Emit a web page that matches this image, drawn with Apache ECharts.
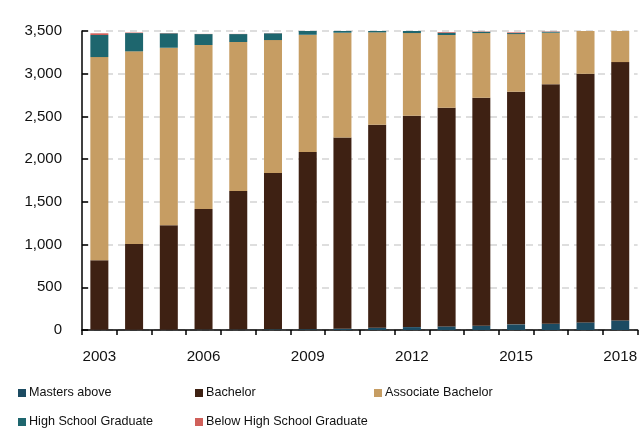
<!DOCTYPE html>
<html>
<head>
<meta charset="utf-8">
<script src="https://cdn.jsdelivr.net/npm/echarts@6/dist/echarts.min.js"></script>
<style>html,body{margin:0;padding:0;background:#fff;}#c{width:640px;height:430px;}</style>
</head>
<body>
<div id="c"></div>
<script>
var years = ['2003','2004','2005','2006','2007','2008','2009','2010','2011','2012','2013','2014','2015','2016','2017','2018'];
var mastersAbove = [2,3,4,5,6,8,10,15,27,34,42,50,66,74,89,112];
var bachelor = [814,1004,1222,1412,1622,1831,2075,2239,2375,2473,2559,2668,2722,2804,2910,3024];
var associateBachelor = [2379,2255,2078,1919,1743,1555,1371,1226,1082,969,852,758,676,602,560,440];
var highSchool = [258,214,169,128,93,79,70,50,40,24,27,15,12,11,10,8];
var belowHighSchool = [20,6,3,2,2,2,2,2,2,3,8,4,8,4,3,3];
var yTicks = [0,500,1000,1500,2000,2500,3000,3500];

var FONT = "'Liberation Sans', Arial, sans-serif";
var names = ['Masters above','Bachelor','Associate Bachelor','High School Graduate','Below High School Graduate'];
var colors = ['#1c4b62','#3e2113','#c69d63','#1e666e','#d0605a'];
var datasets = [mastersAbove, bachelor, associateBachelor, highSchool, belowHighSchool];

var chart = echarts.init(document.getElementById('c'), null, {renderer:'canvas'});

var legendPos = [[18,385],[195,385],[374,385],[18,414],[195,414]];
var legends = names.map(function(n,i){
  return {
    data:[n], left:legendPos[i][0], top:legendPos[i][1], padding:0,
    itemWidth:8, itemHeight:8, icon:'rect', selectedMode:false,
    textStyle:{fontFamily:FONT, fontSize:12.6, color:'#111', padding:[0,0,0,-2], lineHeight:16}
  };
});

chart.setOption({
  animation:false,
  color: colors,
  grid:{left:82, top:31, width:560, height:299, containLabel:false},
  legend: legends,
  xAxis:{
    type:'category', data:years,
    axisLine:{lineStyle:{color:'#000', width:1.5}},
    axisTick:{show:true, interval:0, length:5, lineStyle:{color:'#000', width:1.5}},
    axisLabel:{interval:2, margin:19, fontFamily:FONT, fontSize:15.2, color:'#111'},
    splitLine:{show:false}
  },
  yAxis:{
    type:'value', min:yTicks[0], max:yTicks[yTicks.length-1], interval:500,
    axisLine:{show:true, lineStyle:{color:'#000', width:1.5}},
    axisTick:{show:true, inside:true, length:6, lineStyle:{color:'#000', width:1.5}},
    axisLabel:{margin:20, fontFamily:FONT, fontSize:15, color:'#111',
      formatter:function(v){return v.toLocaleString('en-US');}},
    splitLine:{show:true, lineStyle:{color:'#d4d4d4', width:1.5, type:[7,5]}}
  },
  series: datasets.map(function(d,i){
    return {name:names[i], type:'bar', stack:'total', data:d, barWidth:18,
      itemStyle:{color:colors[i]}};
  })
});
</script>
</body>
</html>
